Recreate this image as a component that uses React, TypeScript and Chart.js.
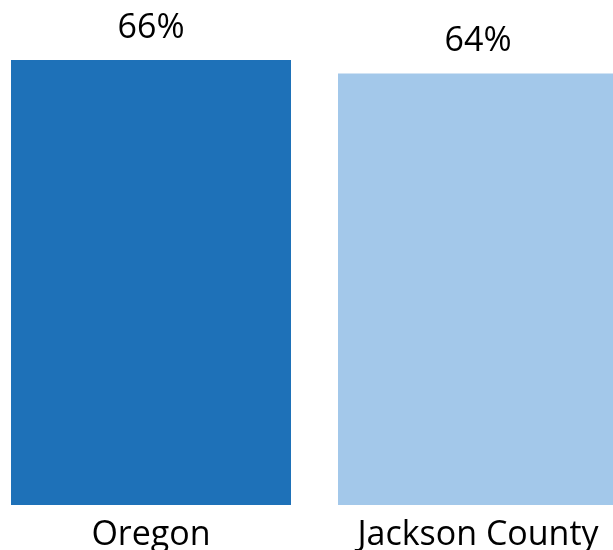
import React, { useEffect, useRef } from "react";
import { Chart, registerables } from "chart.js";

Chart.register(...registerables);

const categories = ["Oregon", "Jackson County"];
const values = [66, 64];
const barColors = ["#1e71b8", "#a3c8ea"];
const valueLabels = values.map((v) => `${v}%`);

const valueLabelPlugin = {
  id: "valueLabels",
  afterDatasetsDraw(chart: any) {
    const ctx = chart.ctx;
    const meta = chart.getDatasetMeta(0);
    ctx.save();
    ctx.font = '34px "Open Sans"';
    ctx.fillStyle = "#000";
    ctx.textAlign = "center";
    ctx.textBaseline = "alphabetic";
    meta.data.forEach((bar: any, i: number) => {
      ctx.fillText(valueLabels[i], bar.x, bar.y - 22);
    });
    ctx.restore();
  },
};

export default function App() {
  const ref = useRef<HTMLCanvasElement>(null);
  useEffect(() => {
    if (!ref.current) return;
    const chart = new Chart(ref.current, {
      type: "bar",
      data: {
        labels: categories,
        datasets: [
          {
            data: values,
            backgroundColor: barColors,
            borderWidth: 0,
            categoryPercentage: 1,
            barPercentage: 280 / 327,
          },
        ],
      },
      options: {
        animation: false,
        responsive: false,
        maintainAspectRatio: false,
        layout: { padding: { top: 33, left: 7.5, right: 18.5, bottom: 0 } },
        plugins: { legend: { display: false }, tooltip: { enabled: false } },
        scales: {
          y: { display: false, min: 0, max: 70 },
          x: {
            grid: { display: false, drawTicks: false },
            border: { display: false },
            afterFit: (scale: any) => {
              scale.height = 45;
            },
            ticks: {
              color: "#000",
              padding: 10,
              font: { family: "Open Sans", size: 34 },
              maxRotation: 0,
              autoSkip: false,
            },
          },
        },
      },
      plugins: [valueLabelPlugin],
    });
    return () => chart.destroy();
  }, []);
  return (
    <div style={{ position: "absolute", left: -20, top: 0, width: 680, height: 550 }}>
      <canvas ref={ref} width={680} height={550} style={{ width: 680, height: 550 }} />
    </div>
  );
}
